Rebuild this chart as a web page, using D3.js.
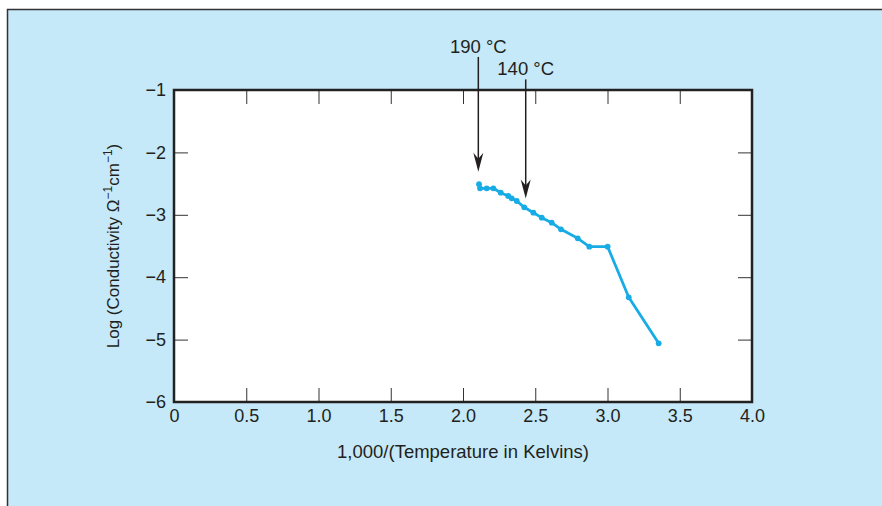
<!DOCTYPE html>
<html>
<head>
<meta charset="utf-8">
<script src="https://cdn.jsdelivr.net/npm/d3@7"></script>
<style>
  body { margin: 0; background: #fff; }
  text { font-family: "Liberation Sans", Arial, sans-serif; fill: #231f20; }
</style>
</head>
<body>
<script>
// data
var invTemp = [2.111, 2.118, 2.164, 2.210, 2.261, 2.313, 2.337, 2.372, 2.424, 2.487,
               2.545, 2.614, 2.678, 2.794, 2.874, 3.001, 3.147, 3.354];
var logCond = [-2.51, -2.575, -2.575, -2.575, -2.646, -2.699, -2.736, -2.779, -2.880, -2.966,
               -3.046, -3.127, -3.232, -3.377, -3.511, -3.511, -4.322, -5.059];
var xTicks = [0, 0.5, 1.0, 1.5, 2.0, 2.5, 3.0, 3.5, 4.0];
var yTicks = [-1, -2, -3, -4, -5, -6];
var arrowLabels = ["190 °C", "140 °C"];
var arrowX = [2.106, 2.434];
var arrowTop = [-0.47, -0.83];
var arrowTip = [-2.31, -2.74];

function init() {
    var w = 882, h = 506;
    var left = 174, right = 752, top = 90, bottom = 402;

    var svg = d3.select("body").append("svg")
        .attr("width", w)
        .attr("height", h);

    // light blue panel
    svg.append("rect")
        .attr("x", 7).attr("y", 9)
        .attr("width", w - 7).attr("height", h - 9)
        .attr("fill", "#c5e9f8");
    svg.append("path")
        .attr("d", "M7.5," + h + "V9.5H" + w)
        .attr("stroke", "#333").attr("stroke-width", 1.5).attr("fill", "none");

    var xScale = d3.scaleLinear().domain([0, 4]).range([left, right]);
    var yScale = d3.scaleLinear().domain([-6, -1]).range([bottom, top]);

    svg.append("rect")
        .attr("x", left).attr("y", top)
        .attr("width", right - left).attr("height", bottom - top)
        .attr("fill", "#fff");

    var fmtX = function(d) { return d === 0 ? "0" : d3.format(".1f")(d); };
    var fmtY = function(d) { return "\u2212" + Math.abs(d); };

    // axes, ticks pointing inward
    svg.append("g")
        .attr("transform", "translate(0," + bottom + ")")
        .call(d3.axisBottom(xScale).tickValues(xTicks).tickFormat(fmtX).tickSizeInner(-14).tickSizeOuter(0).tickPadding(7));
    svg.append("g")
        .attr("transform", "translate(" + left + ",0)")
        .call(d3.axisLeft(yScale).tickValues(yTicks).tickFormat(fmtY).tickSizeInner(-14).tickSizeOuter(0).tickPadding(8));
    svg.append("g")
        .attr("transform", "translate(0," + top + ")")
        .call(d3.axisTop(xScale).tickValues(xTicks).tickFormat("").tickSizeInner(-14).tickSizeOuter(0));
    svg.append("g")
        .attr("transform", "translate(" + right + ",0)")
        .call(d3.axisRight(yScale).tickValues(yTicks).tickFormat("").tickSizeInner(-14).tickSizeOuter(0));

    svg.selectAll(".tick text")
        .style("font-size", "18px")
        .attr("fill", "#231f20");
    svg.selectAll(".tick line").attr("stroke", "#333").attr("stroke-width", 1);
    svg.selectAll(".domain").attr("stroke", "none");

    svg.append("rect")
        .attr("x", left).attr("y", top)
        .attr("width", right - left).attr("height", bottom - top)
        .attr("fill", "none").attr("stroke", "#222").attr("stroke-width", 2.5);

    // data line
    var pts = invTemp.map(function(d, i) { return [d, logCond[i]]; });
    var line = d3.line()
        .x(function(d) { return xScale(d[0]); })
        .y(function(d) { return yScale(d[1]); });
    svg.append("path")
        .datum(pts)
        .attr("d", line)
        .attr("fill", "none")
        .attr("stroke", "#17ace5")
        .attr("stroke-width", 2.8)
        .attr("stroke-linejoin", "round");
    svg.selectAll("circle.pt")
        .data(pts)
        .enter()
        .append("circle")
        .attr("class", "pt")
        .attr("cx", function(d) { return xScale(d[0]); })
        .attr("cy", function(d) { return yScale(d[1]); })
        .attr("r", 2.9)
        .attr("fill", "#17ace5");

    // arrows
    arrowX.forEach(function(ax, i) {
        var x = xScale(ax);
        var y0 = yScale(arrowTop[i]);
        var y1 = yScale(arrowTip[i]);
        svg.append("line")
            .attr("x1", x).attr("x2", x)
            .attr("y1", y0).attr("y2", y1 - 6)
            .attr("stroke", "#231f20").attr("stroke-width", 1.5);
        svg.append("path")
            .attr("d", "M" + (x - 5) + "," + (y1 - 19) + "L" + x + "," + y1 + "L" + (x + 5) + "," + (y1 - 19) + "L" + x + "," + (y1 - 13) + "Z")
            .attr("fill", "#231f20");
        svg.append("text")
            .attr("x", x)
            .attr("y", y0 - 4)
            .attr("text-anchor", "middle")
            .style("font-size", "18.5px")
            .text(arrowLabels[i]);
    });

    // axis titles
    svg.append("text")
        .attr("x", (left + right) / 2)
        .attr("y", 458)
        .attr("text-anchor", "middle")
        .style("font-size", "18.5px")
        .text("1,000/(Temperature in Kelvins)");

    var yl = svg.append("text")
        .attr("transform", "translate(119," + ((top + bottom) / 2) + ") rotate(-90)")
        .attr("text-anchor", "middle")
        .style("font-size", "17px");
    yl.append("tspan").text("Log (Conductivity \u03A9");
    yl.append("tspan").attr("dy", -7).style("font-size", "12px").text("\u22121");
    yl.append("tspan").attr("dy", 7).text("cm");
    yl.append("tspan").attr("dy", -7).style("font-size", "12px").text("\u22121");
    yl.append("tspan").attr("dy", 7).text(")");
}
window.onload = init;
</script>
</body>
</html>
